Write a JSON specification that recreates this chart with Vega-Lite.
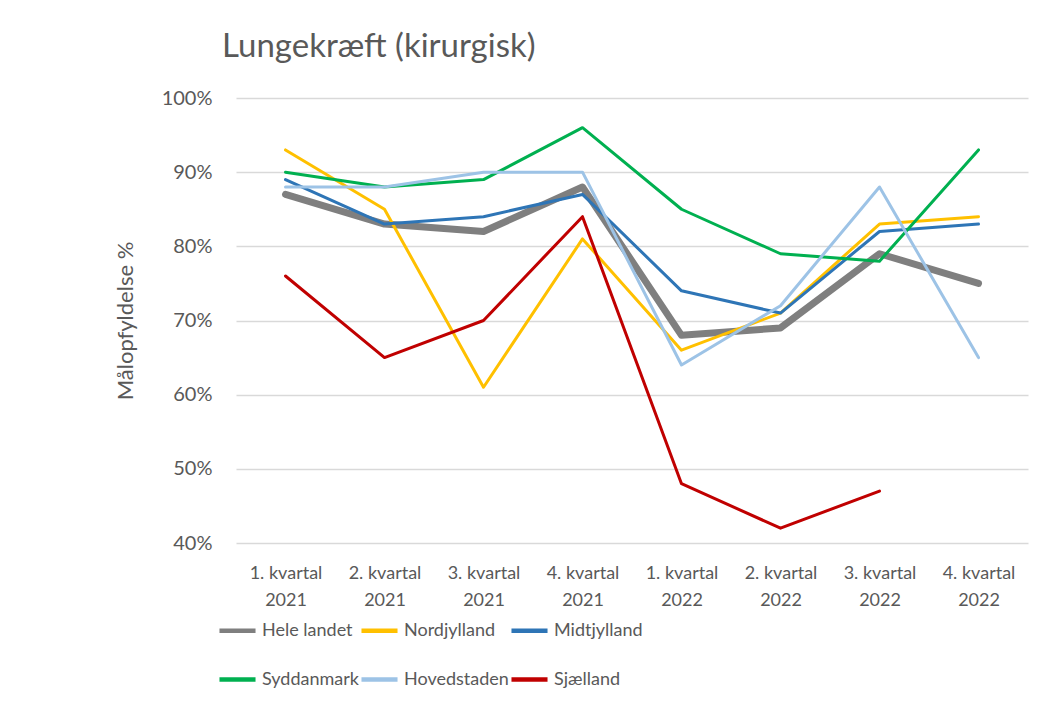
{
  "$schema": "https://vega.github.io/schema/vega-lite/v6.json",
  "width": 792,
  "height": 445,
  "autosize": {"type": "none"},
  "padding": {"left": 236, "top": 98, "right": 35, "bottom": 168},
  "background": "white",
  "config": {
    "font": "Lato",
    "view": {"stroke": null},
    "axis": {"labelColor": "#595959", "titleColor": "#595959", "labelFont": "Lato", "titleFont": "Lato"},
    "legend": {"labelFont": "Lato"}
  },
  "title": {
    "text": "Lungekræft (kirurgisk)",
    "anchor": "start",
    "frame": "group",
    "fontSize": 33,
    "fontWeight": "normal",
    "color": "#595959",
    "font": "Lato",
    "dx": -14,
    "offset": 24
  },
  "data": {
    "values": [
      {"kvartal": "1. kvartal 2021", "region": "Hele landet", "pct": 0.87},
      {"kvartal": "2. kvartal 2021", "region": "Hele landet", "pct": 0.83},
      {"kvartal": "3. kvartal 2021", "region": "Hele landet", "pct": 0.82},
      {"kvartal": "4. kvartal 2021", "region": "Hele landet", "pct": 0.88},
      {"kvartal": "1. kvartal 2022", "region": "Hele landet", "pct": 0.68},
      {"kvartal": "2. kvartal 2022", "region": "Hele landet", "pct": 0.69},
      {"kvartal": "3. kvartal 2022", "region": "Hele landet", "pct": 0.79},
      {"kvartal": "4. kvartal 2022", "region": "Hele landet", "pct": 0.75},
      {"kvartal": "1. kvartal 2021", "region": "Nordjylland", "pct": 0.93},
      {"kvartal": "2. kvartal 2021", "region": "Nordjylland", "pct": 0.85},
      {"kvartal": "3. kvartal 2021", "region": "Nordjylland", "pct": 0.61},
      {"kvartal": "4. kvartal 2021", "region": "Nordjylland", "pct": 0.81},
      {"kvartal": "1. kvartal 2022", "region": "Nordjylland", "pct": 0.66},
      {"kvartal": "2. kvartal 2022", "region": "Nordjylland", "pct": 0.71},
      {"kvartal": "3. kvartal 2022", "region": "Nordjylland", "pct": 0.83},
      {"kvartal": "4. kvartal 2022", "region": "Nordjylland", "pct": 0.84},
      {"kvartal": "1. kvartal 2021", "region": "Midtjylland", "pct": 0.89},
      {"kvartal": "2. kvartal 2021", "region": "Midtjylland", "pct": 0.83},
      {"kvartal": "3. kvartal 2021", "region": "Midtjylland", "pct": 0.84},
      {"kvartal": "4. kvartal 2021", "region": "Midtjylland", "pct": 0.87},
      {"kvartal": "1. kvartal 2022", "region": "Midtjylland", "pct": 0.74},
      {"kvartal": "2. kvartal 2022", "region": "Midtjylland", "pct": 0.71},
      {"kvartal": "3. kvartal 2022", "region": "Midtjylland", "pct": 0.82},
      {"kvartal": "4. kvartal 2022", "region": "Midtjylland", "pct": 0.83},
      {"kvartal": "1. kvartal 2021", "region": "Syddanmark", "pct": 0.90},
      {"kvartal": "2. kvartal 2021", "region": "Syddanmark", "pct": 0.88},
      {"kvartal": "3. kvartal 2021", "region": "Syddanmark", "pct": 0.89},
      {"kvartal": "4. kvartal 2021", "region": "Syddanmark", "pct": 0.96},
      {"kvartal": "1. kvartal 2022", "region": "Syddanmark", "pct": 0.85},
      {"kvartal": "2. kvartal 2022", "region": "Syddanmark", "pct": 0.79},
      {"kvartal": "3. kvartal 2022", "region": "Syddanmark", "pct": 0.78},
      {"kvartal": "4. kvartal 2022", "region": "Syddanmark", "pct": 0.93},
      {"kvartal": "1. kvartal 2021", "region": "Hovedstaden", "pct": 0.88},
      {"kvartal": "2. kvartal 2021", "region": "Hovedstaden", "pct": 0.88},
      {"kvartal": "3. kvartal 2021", "region": "Hovedstaden", "pct": 0.90},
      {"kvartal": "4. kvartal 2021", "region": "Hovedstaden", "pct": 0.90},
      {"kvartal": "1. kvartal 2022", "region": "Hovedstaden", "pct": 0.64},
      {"kvartal": "2. kvartal 2022", "region": "Hovedstaden", "pct": 0.72},
      {"kvartal": "3. kvartal 2022", "region": "Hovedstaden", "pct": 0.88},
      {"kvartal": "4. kvartal 2022", "region": "Hovedstaden", "pct": 0.65},
      {"kvartal": "1. kvartal 2021", "region": "Sjælland", "pct": 0.76},
      {"kvartal": "2. kvartal 2021", "region": "Sjælland", "pct": 0.65},
      {"kvartal": "3. kvartal 2021", "region": "Sjælland", "pct": 0.70},
      {"kvartal": "4. kvartal 2021", "region": "Sjælland", "pct": 0.84},
      {"kvartal": "1. kvartal 2022", "region": "Sjælland", "pct": 0.48},
      {"kvartal": "2. kvartal 2022", "region": "Sjælland", "pct": 0.42},
      {"kvartal": "3. kvartal 2022", "region": "Sjælland", "pct": 0.47}
    ]
  },
  "mark": {"type": "line", "strokeCap": "round", "strokeJoin": "round"},
  "encoding": {
    "x": {
      "field": "kvartal",
      "type": "ordinal",
      "sort": null,
      "scale": {"type": "point", "padding": 0.5},
      "axis": {
        "title": null,
        "domain": false,
        "ticks": false,
        "labelAngle": 0,
        "labelFontSize": 18,
        "labelPadding": 21,
        "labelLineHeight": 27,
        "labelExpr": "[slice(datum.label, 0, 10), slice(datum.label, 11)]"
      }
    },
    "y": {
      "field": "pct",
      "type": "quantitative",
      "scale": {"domain": [0.4, 1.0], "nice": false, "zero": false},
      "axis": {
        "title": "Målopfyldelse %",
        "titleFontSize": 22,
        "titleFontWeight": "normal",
        "titlePadding": 24,
        "format": ".0%",
        "values": [0.4, 0.5, 0.6, 0.7, 0.8, 0.9, 1.0],
        "labelFontSize": 20,
        "labelPadding": 24,
        "domain": false,
        "ticks": false,
        "grid": true,
        "gridColor": "#d9d9d9",
        "gridWidth": 1.5
      }
    },
    "color": {
      "field": "region",
      "type": "nominal",
      "sort": null,
      "scale": {
        "domain": ["Hele landet", "Nordjylland", "Midtjylland", "Syddanmark", "Hovedstaden", "Sjælland"],
        "range": ["#7f7f7f", "#ffc000", "#2e75b6", "#00b050", "#9dc3e6", "#c00000"]
      },
      "legend": {
        "title": null,
        "orient": "none",
        "legendX": -19,
        "legendY": 512,
        "direction": "horizontal",
        "columns": 3,
        "symbolType": "stroke",
        "symbolSize": 1300,
        "symbolStrokeWidth": 4.5,
        "labelFontSize": 18,
        "labelColor": "#595959",
        "labelOffset": 4,
        "labelLimit": 200,
        "columnPadding": -15,
        "rowPadding": 19
      }
    },
    "strokeWidth": {
      "condition": {"test": "datum.region === 'Hele landet'", "value": 7},
      "value": 3
    }
  }
}
